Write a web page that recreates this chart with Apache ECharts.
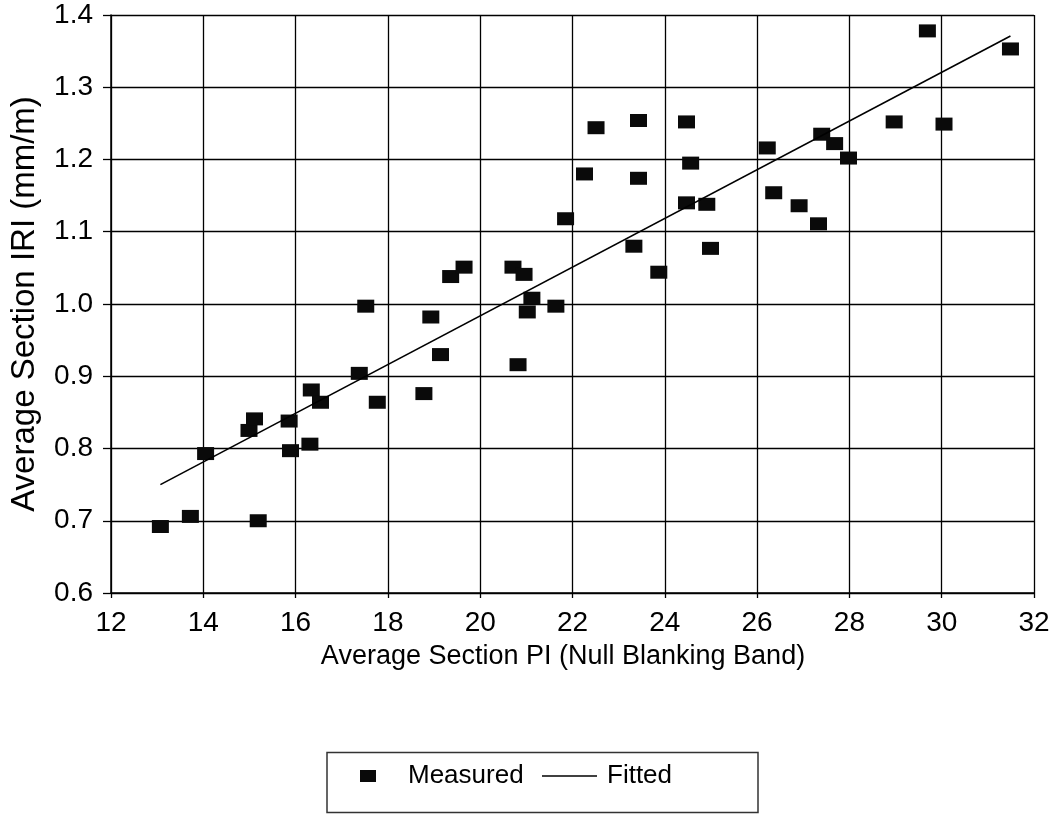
<!DOCTYPE html>
<html>
<head>
<meta charset="utf-8">
<title>Average Section IRI vs PI</title>
<script src="https://cdn.jsdelivr.net/npm/echarts@6/dist/echarts.min.js"></script>
<style>
  html, body { margin: 0; padding: 0; background: #fff; }
  #chart { width: 1060px; height: 814px; }
</style>
</head>
<body>
<div id="chart"></div>
<script>
// Average section plasticity index (Null Blanking Band) for each section
const measuredPI = [
  13.07, 13.72, 14.05, 14.99, 15.11, 15.19, 15.86, 15.89, 16.34, 16.54,
  16.31, 17.38, 17.77, 18.78, 19.14, 18.93, 20.82, 21.02, 21.64, 17.52,
  19.36, 19.65, 20.71, 20.95, 21.12, 21.85, 22.51, 22.26, 23.43, 23.43,
  24.47, 24.56, 24.47, 23.33, 23.87, 24.91, 24.99, 26.22, 26.36, 26.91,
  27.33, 27.40, 27.68, 27.98, 28.97, 30.05, 29.69, 31.49
];
// Average section IRI (mm/m) for the same sections
const measuredIRI = [
  0.692, 0.706, 0.793, 0.825, 0.841, 0.700, 0.838, 0.797, 0.881, 0.864,
  0.806, 0.904, 0.864, 0.876, 0.930, 0.982, 0.916, 0.989, 0.997, 0.997,
  1.038, 1.051, 1.051, 1.041, 1.008, 1.118, 1.244, 1.180, 1.254, 1.174,
  1.252, 1.195, 1.140, 1.080, 1.044, 1.138, 1.077, 1.216, 1.154, 1.136,
  1.111, 1.235, 1.222, 1.202, 1.252, 1.249, 1.378, 1.353
];
// Fitted regression line end points
const fittedPI = [13.07, 31.49];
const fittedIRI = [0.750, 1.371];

const xTicks = { min: 12, max: 32, step: 2 };
const yTicks = { min: 0.6, max: 1.4, step: 0.1 };

const FONT = '"Liberation Sans", Arial, sans-serif';

const measuredData = measuredPI.map((x, i) => [x, measuredIRI[i]]);
const fittedData = fittedPI.map((x, i) => [x, fittedIRI[i]]);

const chart = echarts.init(document.getElementById('chart'), null, { renderer: 'canvas' });

const gridLine = { show: true, lineStyle: { color: '#000', width: 1.3 } };

chart.setOption({
  backgroundColor: '#fff',
  animation: false,
  grid: { left: 108.5, right: 26, top: 15, bottom: 221, containLabel: false },
  xAxis: {
    type: 'value',
    min: xTicks.min, max: xTicks.max, interval: xTicks.step,
    name: 'Average Section PI (Null Blanking Band)',
    nameLocation: 'middle',
    nameGap: 50,
    nameTextStyle: { fontFamily: FONT, fontSize: 27, color: '#000', padding: [0, 19, 0, 0] },
    axisLine: { show: true, onZero: false, lineStyle: { color: '#000', width: 1.5 } },
    axisTick: { show: true, inside: false, length: 5, lineStyle: { color: '#000', width: 1.3 } },
    axisLabel: { fontFamily: FONT, fontSize: 28, color: '#000', margin: 16 },
    splitLine: gridLine
  },
  yAxis: {
    type: 'value',
    min: yTicks.min, max: yTicks.max, interval: yTicks.step,
    name: 'Average Section IRI (mm/m)',
    nameLocation: 'middle',
    nameGap: 70,
    nameTextStyle: { fontFamily: FONT, fontSize: 33, color: '#000' },
    axisLine: { show: true, onZero: false, lineStyle: { color: '#000', width: 1.5 } },
    axisTick: { show: true, inside: false, length: 8, lineStyle: { color: '#000', width: 1.3 } },
    axisLabel: {
      fontFamily: FONT, fontSize: 28, color: '#000', margin: 18,
      formatter: v => v.toFixed(1)
    },
    splitLine: gridLine
  },
  legend: [
    {
      data: [{ name: 'Measured', icon: 'rect' }],
      left: 360, top: 763, padding: 0,
      itemWidth: 16, itemHeight: 12,
      textStyle: { fontFamily: FONT, fontSize: 26, color: '#000', padding: [0, 0, 0, 27] },
      selectedMode: false
    },
    {
      data: [{ name: 'Fitted', icon: 'rect' }],
      left: 542, top: 763, padding: 0,
      itemWidth: 55, itemHeight: 1.6,
      textStyle: { fontFamily: FONT, fontSize: 26, color: '#000', padding: [0, 0, 0, 5] },
      selectedMode: false
    }
  ],
  graphic: [
    {
      type: 'rect',
      shape: { x: 327, y: 752.5, width: 431, height: 60 },
      style: { fill: 'none', stroke: '#333', lineWidth: 1.5 },
      silent: true
    }
  ],
  series: [
    {
      name: 'Measured',
      type: 'scatter',
      data: measuredData,
      symbol: 'rect',
      symbolSize: [17, 13],
      itemStyle: { color: '#0a0a0a', opacity: 1 },
      z: 3
    },
    {
      name: 'Fitted',
      type: 'line',
      data: fittedData,
      symbol: 'none',
      showSymbol: false,
      lineStyle: { color: '#000', width: 1.6 },
      itemStyle: { color: '#000' },
      z: 4
    }
  ]
});
</script>
</body>
</html>
